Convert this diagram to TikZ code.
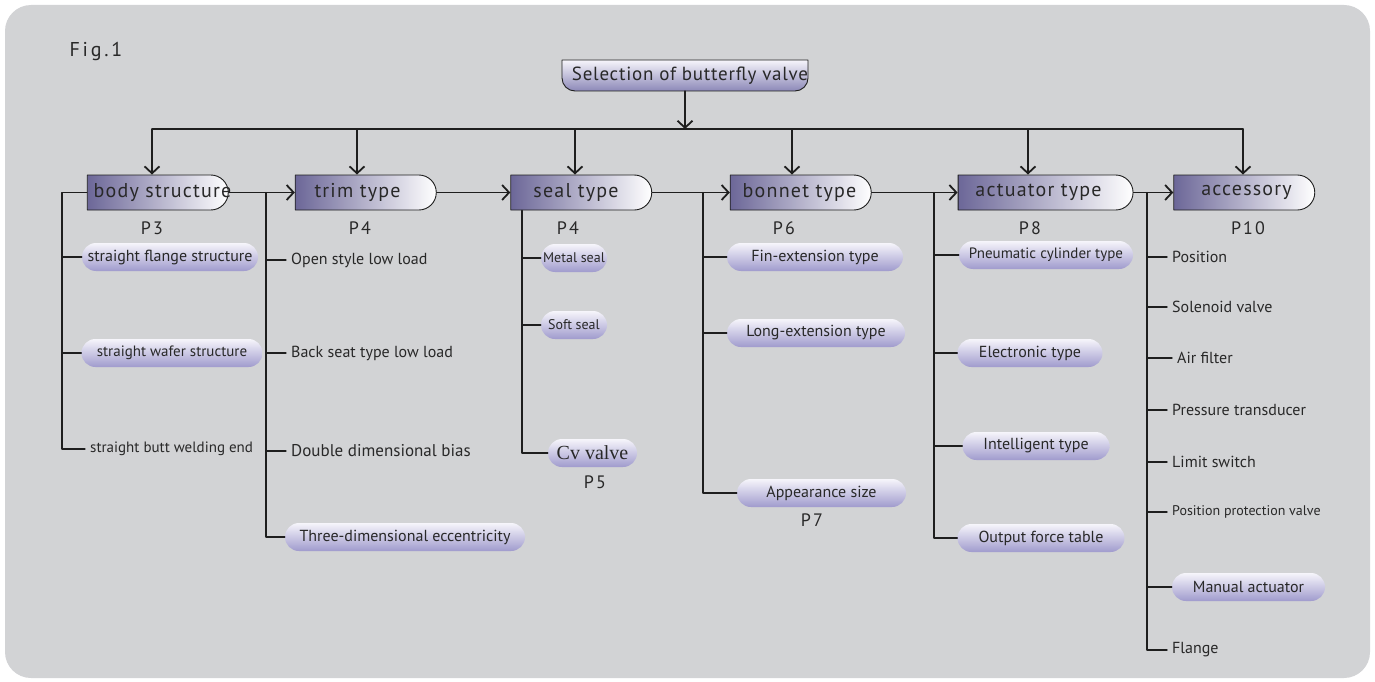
\documentclass[tikz,border=0pt]{standalone}
\usepackage{fontspec}
\setmainfont{PT Sans}
\newfontfamily\cvfont{Liberation Serif}
\usetikzlibrary{shapes.misc,arrows.meta}
\definecolor{panelgray}{RGB}{210,211,213}
\definecolor{hdrdark}{RGB}{108,103,152}
\definecolor{pilltop}{RGB}{246,245,251}
\definecolor{pillbot}{RGB}{160,155,205}
\definecolor{ttlbot}{RGB}{140,136,184}
\definecolor{linegray}{RGB}{30,30,30}
\definecolor{txt}{RGB}{40,40,40}
\tikzset{
  hdr/.style={rounded rectangle, rounded rectangle west arc=none, draw=linegray, line width=0.9pt,
    left color=hdrdark, right color=white, minimum width=141pt, minimum height=35pt, inner sep=0pt,
    text=txt, font=\fontsize{20}{22}\selectfont\addfontfeature{LetterSpace=6}},
  pill/.style={rounded rectangle, top color=pilltop, bottom color=pillbot, minimum height=28pt,
    inner sep=0pt, text=txt, font=\fontsize{16}{18}\selectfont},
  item/.style={anchor=west, inner sep=5pt, text=txt, font=\fontsize{16}{18}\selectfont},
  pg/.style={text=txt, font=\fontsize{18}{20}\selectfont\addfontfeature{LetterSpace=12}},
  link/.style={draw=linegray, line width=1.3pt},
}
\begin{document}
\begin{tikzpicture}[x=1pt,y=-1pt,>={Straight Barb[length=7pt,width=15pt,line width=1.8pt]}, line join=round, line cap=round]
\useasboundingbox (0,0) rectangle (1375,682);
\fill[panelgray, rounded corners=26pt] (5,5) rectangle (1370,678);
\node[anchor=west, text=txt, font=\fontsize{20}{22}\selectfont\addfontfeature{LetterSpace=14}] (fig) at (66,52) {Fig.1};
% title
\shadedraw[top color=pilltop, bottom color=ttlbot, draw=linegray, line width=0.9pt]
  (562,60) -- (562,78) arc[start angle=180,end angle=90,radius=13] -- (795,91)
  arc[start angle=90,end angle=0,radius=13] -- (808,60) -- cycle;
\node[text=txt, font=\fontsize{19}{21}\selectfont\addfontfeature{LetterSpace=4}] (title) at (690,76) {Selection of butterfly valve};
\coordinate (ttlb) at (685,91);
\coordinate (hub) at (685,129);
\draw[link,->] (ttlb) -- (hub);
% headers
\node[hdr] (bs) at (156.5,192.5) {\makebox[0pt]{\hspace{12pt}body structure}};
\node[hdr] (tt) at (364.5,192.5) {\makebox[0pt]{\hspace{-14pt}trim type}};
\node[hdr] (st) at (580,192.5) {\makebox[0pt]{\hspace{-8pt}seal type}};
\node[hdr] (bt) at (799.5,192.5) {\makebox[0pt]{bonnet type}};
\node[hdr, minimum width=175pt] (at) at (1044.5,192.5) {\makebox[0pt]{\hspace{-12pt}actuator type}};
\node[hdr] (ac) at (1243.5,192.5) {\makebox[0pt]{\hspace{6pt}accessory}};
\draw[link] (152,129) -- (1243,129);
\foreach \n/\x in {bs/152,tt/357,st/575,bt/792,at/1028,ac/1243}
  \draw[link,->] (\x,129) -- (\x,129 |- \n.north);
\draw[link,->] (bs.east) -- (tt.west);
\draw[link,->] (tt.east) -- (st.west);
\draw[link,->] (st.east) -- (bt.west);
\draw[link,->] (bt.east) -- (at.west);
\draw[link,->] (at.east) -- (ac.west);
% page numbers
\node[pg] (p3) at (152,228) {P3};
\node[pg] (p4a) at (360,228) {P4};
\node[pg] (p4b) at (568,228) {P4};
\node[pg] (p6) at (784,228) {P6};
\node[pg] (p8) at (1030,228) {P8};
\node[pg] (p10) at (1248,228) {P10};
% body structure
\node[pill, minimum width=176pt] (bf) at (170,257) {straight flange structure};
\node[pill, minimum width=181pt, font=\fontsize{15}{17}\selectfont] (bw) at (172,353) {straight wafer structure};
\node[item, font=\fontsize{15}{17}\selectfont] (be) at (85,449) {straight butt welding end};
\coordinate (bsv) at (62,192.5);
\draw[link] (bs.west) -- (bsv) |- (be.west);
\draw[link] (bsv |- bf.west) -- (bf.west);
\draw[link] (bsv |- bw.west) -- (bw.west);
% trim type
\node[item] (ol) at (286,260) {Open style low load};
\node[item] (bl) at (286,353) {Back seat type low load};
\node[item, font=\fontsize{17}{19}\selectfont] (dd) at (286,451) {Double dimensional bias};
\node[pill, minimum width=240pt] (te) at (405,537) {Three-dimensional eccentricity};
\coordinate (ttv) at (266,192.5);
\draw[link] (ttv) |- (te.west);
\foreach \n in {ol,bl,dd}
  \draw[link] (ttv |- \n.west) -- (\n.west);
% seal type
\node[pill, minimum width=66pt, font=\fontsize{14}{16}\selectfont] (ms) at (574,258) {Metal seal};
\node[pill, minimum width=66pt, font=\fontsize{14}{16}\selectfont] (ss) at (574,325) {Soft seal};
\node[pill, minimum width=89pt, font=\fontsize{20}{22}\cvfont] (cv) at (592.5,453) {Cv valve};
\node[pg] (p5) at (595,482) {P5};
\coordinate (stv) at (522,0 |- st.south);
\draw[link] (stv) |- (cv.west);
\draw[link] (stv |- ms.west) -- (ms.west);
\draw[link] (stv |- ss.west) -- (ss.west);
% bonnet type
\node[pill, minimum width=176pt] (fe) at (815,257) {Fin-extension type};
\node[pill, minimum width=178pt] (le) at (816,333) {Long-extension type};
\node[pill, minimum width=169pt] (as) at (821.5,493) {Appearance size};
\node[pg] (p7) at (812,520) {P7};
\coordinate (btv) at (703,192.5);
\draw[link] (btv) |- (as.west);
\draw[link] (btv |- fe.west) -- (fe.west);
\draw[link] (btv |- le.west) -- (le.west);
% actuator type
\node[pill, minimum width=174pt, font=\fontsize{15}{17}\selectfont] (pc) at (1046,255) {Pneumatic cylinder type};
\node[pill, minimum width=145pt] (et) at (1030,353) {Electronic type};
\node[pill, minimum width=147pt] (it) at (1036,446) {Intelligent type};
\node[pill, minimum width=167pt] (of) at (1041,538) {Output force table};
\coordinate (atv) at (934,192.5);
\draw[link] (atv) |- (of.west);
\foreach \n in {pc,et,it}
  \draw[link] (atv |- \n.west) -- (\n.west);
% accessory
\node[item] (po) at (1167,257) {Position};
\node[item] (sv) at (1167,307) {Solenoid valve};
\node[item] (af) at (1172,358) {Air filter};
\node[item] (pt) at (1167,410) {Pressure transducer};
\node[item] (ls) at (1167,462) {Limit switch};
\node[item, font=\fontsize{14}{16}\selectfont] (pp) at (1167,512) {Position protection valve};
\node[pill, minimum width=153pt] (ma) at (1248.5,587) {Manual actuator};
\node[item] (fl) at (1167,650) {Flange};
\coordinate (acv) at (1147,192.5);
\draw[link] (acv) |- (fl.west);
\foreach \n in {po,sv,af,pt,ls,pp,ma}
  \draw[link] (acv |- \n.west) -- (\n.west);
\end{tikzpicture}
\end{document}
